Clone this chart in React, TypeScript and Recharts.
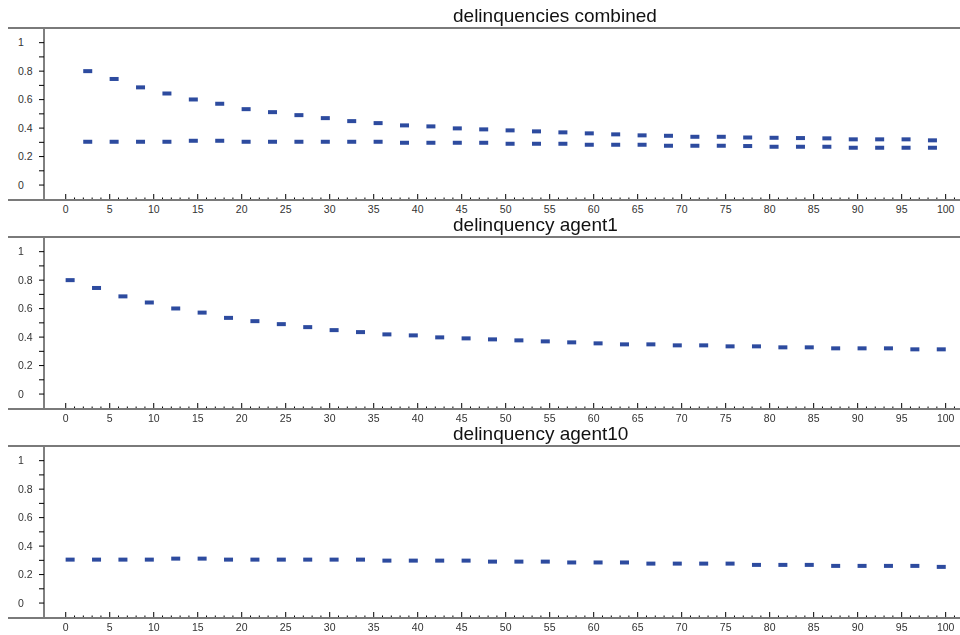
import React from "react";
import { ScatterChart, Scatter, XAxis, YAxis } from "recharts";

// ---- data ----
const combinedX = [2.5, 5.5, 8.5, 11.5, 14.5, 17.5, 20.5, 23.5, 26.5, 29.5, 32.5, 35.5, 38.5, 41.5, 44.5, 47.5, 50.5, 53.5, 56.5, 59.5, 62.5, 65.5, 68.5, 71.5, 74.5, 77.5, 80.5, 83.5, 86.5, 89.5, 92.5, 95.5, 98.5];
const combinedHigh = [0.8, 0.745, 0.686, 0.643, 0.601, 0.571, 0.533, 0.512, 0.491, 0.47, 0.449, 0.435, 0.419, 0.412, 0.398, 0.391, 0.384, 0.377, 0.37, 0.363, 0.356, 0.349, 0.346, 0.339, 0.339, 0.334, 0.332, 0.33, 0.328, 0.321, 0.321, 0.321, 0.314];
const combinedLow = [0.304, 0.304, 0.304, 0.304, 0.311, 0.311, 0.304, 0.304, 0.304, 0.304, 0.304, 0.304, 0.297, 0.297, 0.297, 0.297, 0.29, 0.29, 0.29, 0.283, 0.283, 0.283, 0.276, 0.276, 0.276, 0.274, 0.269, 0.269, 0.269, 0.262, 0.262, 0.262, 0.262];

const agentX = [0.5, 3.5, 6.5, 9.5, 12.5, 15.5, 18.5, 21.5, 24.5, 27.5, 30.5, 33.5, 36.5, 39.5, 42.5, 45.5, 48.5, 51.5, 54.5, 57.5, 60.5, 63.5, 66.5, 69.5, 72.5, 75.5, 78.5, 81.5, 84.5, 87.5, 90.5, 93.5, 96.5, 99.5];
const agent1 = [0.8, 0.745, 0.686, 0.643, 0.601, 0.572, 0.535, 0.512, 0.491, 0.47, 0.449, 0.435, 0.419, 0.412, 0.398, 0.391, 0.384, 0.377, 0.37, 0.363, 0.356, 0.349, 0.349, 0.342, 0.342, 0.335, 0.335, 0.328, 0.328, 0.321, 0.321, 0.321, 0.314, 0.314];
const agent10 = [0.305, 0.305, 0.305, 0.305, 0.312, 0.312, 0.305, 0.305, 0.305, 0.305, 0.305, 0.305, 0.298, 0.298, 0.298, 0.298, 0.291, 0.291, 0.291, 0.285, 0.285, 0.285, 0.277, 0.277, 0.277, 0.277, 0.268, 0.268, 0.268, 0.261, 0.261, 0.261, 0.261, 0.254];

const titles = ["delinquencies combined", "delinquency agent1", "delinquency agent10"];
const xMajorTicks = [0, 5, 10, 15, 20, 25, 30, 35, 40, 45, 50, 55, 60, 65, 70, 75, 80, 85, 90, 95, 100];
const xAllTicks = Array.from({ length: 102 }, (_, i) => i);
const yTicks = [0, 0.1, 0.2, 0.3, 0.4, 0.5, 0.6, 0.7, 0.8, 0.9, 1];
const yLabels: Record<string, string> = { "0": "0", "0.2": "0.2", "0.4": "0.4", "0.6": "0.6", "0.8": "0.8", "1": "1" };

// ---- styling ----
const FONT = "'Liberation Sans', Arial, sans-serif";
const MARK = "#2d4b9f";
const W = 952;
const H = 209;
const MT = 20;
const XH = 17;
const OV = 5; // overlay offset above the chart so the title is not clipped

const toPoints = (xs: number[], ys: number[]) => xs.map((x, i) => ({ x, y: ys[i] }));

const Dash = (props: any) => {
  const { cx, cy } = props;
  if (cx == null || cy == null) return null;
  return <rect x={cx - 4.5} y={cy - 2} width={9} height={4} fill={MARK} />;
};

const XTick = (props: any) => {
  const { x, y, payload } = props;
  const v = payload.value;
  const major = xMajorTicks.includes(v);
  return (
    <g>
      <line x1={x} x2={x} y1={y} y2={y - (major ? 6 : 2.5)} stroke="#000" strokeWidth={1} />
      {major && (
        <text x={x} y={y + 12.5} textAnchor="middle" fontSize={10.5} fontFamily={FONT} fill="#333">
          {v}
        </text>
      )}
    </g>
  );
};

const YTick = (props: any) => {
  const { x, y, payload } = props;
  const v = Math.round(payload.value * 10) / 10;
  const label = yLabels[String(v)];
  return (
    <g>
      <line x1={x} x2={x - 5} y1={y} y2={y} stroke="#000" strokeWidth={1} />
      {label && (
        <text x={x - 26} y={y} dy="0.36em" textAnchor="start" fontSize={10.5} fontFamily={FONT} fill="#333">
          {label}
        </text>
      )}
    </g>
  );
};

const Panel = ({ title, series }: { title: string; series: { x: number; y: number }[][] }) => (
  <div style={{ position: "relative", width: W, height: H, overflow: "visible" }}>
    <ScatterChart width={W} height={H} margin={{ top: MT, right: 0, bottom: 0, left: 0 }}>
      <XAxis
        type="number"
        dataKey="x"
        domain={[-2.47, 101.63]}
        allowDataOverflow
        ticks={xAllTicks}
        interval={0}
        height={XH}
        tickSize={0}
        tickMargin={0}
        tickLine={false}
        axisLine={{ stroke: "#7a7a7a", strokeWidth: 2 }}
        tick={<XTick />}
      />
      <YAxis
        type="number"
        dataKey="y"
        domain={[-0.105, 1.103]}
        allowDataOverflow
        ticks={yTicks}
        interval={0}
        width={36}
        tickSize={0}
        tickMargin={0}
        tickLine={false}
        axisLine={{ stroke: "#000", strokeWidth: 1 }}
        tick={<YTick />}
      />
      {series.map((d, i) => (
        <Scatter key={i} data={d} shape={<Dash />} isAnimationActive={false} />
      ))}
    </ScatterChart>
    <svg
      width={W}
      height={H + OV}
      style={{ position: "absolute", left: 0, top: -OV, pointerEvents: "none", overflow: "visible", display: "block" }}
    >
      <line x1={0} x2={W} y1={MT + OV} y2={MT + OV} stroke="#7a7a7a" strokeWidth={2} />
      <line x1={0} x2={W} y1={H - XH + OV} y2={H - XH + OV} stroke="#7a7a7a" strokeWidth={2} />
      <text x={445} y={14 + OV} fontSize={19} fontFamily={FONT} fill="#111">
        {title}
      </text>
    </svg>
  </div>
);

export default function App() {
  return (
    <div
      style={{
        position: "fixed",
        left: 8,
        top: 8,
        width: W,
        height: 3 * H,
        background: "#fff",
      }}
    >
      <Panel title={titles[0]} series={[toPoints(combinedX, combinedHigh), toPoints(combinedX, combinedLow)]} />
      <Panel title={titles[1]} series={[toPoints(agentX, agent1)]} />
      <Panel title={titles[2]} series={[toPoints(agentX, agent10)]} />
    </div>
  );
}
